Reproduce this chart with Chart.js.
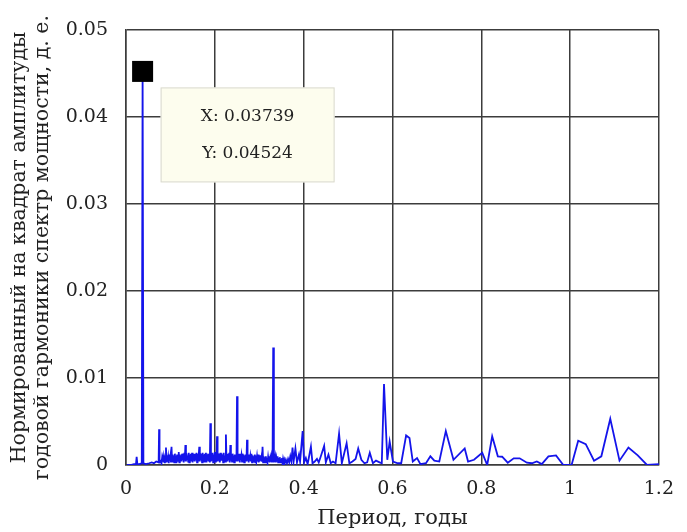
<!DOCTYPE html>
<html>
<head>
<meta charset="utf-8">
<script src="https://cdn.jsdelivr.net/npm/chart.js@4.4.1/dist/chart.umd.min.js"></script>
<style>
  html, body { margin: 0; padding: 0; background: #fff; }
  #wrap { width: 687px; height: 532px; }
</style>
</head>
<body>
<div id="wrap"><canvas id="spectrum"></canvas></div>
<script>
// Period, years (x) and normalized power (y)
const period = [
  0.002, 0.010, 0.018, 0.0225, 0.024, 0.0255, 0.030, 0.0355, 0.03739, 0.0392,
  0.045, 0.052, 0.058, 0.063, 0.068, 0.0735, 0.0745, 0.0755,
  // dense part
  0.0775, 0.07875, 0.0800, 0.08125, 0.0825, 0.08375, 0.0850, 0.08625, 0.0875, 0.08875,
  0.0900, 0.09125, 0.0925, 0.09375, 0.0950, 0.09625, 0.0975, 0.09875, 0.1000, 0.10125,
  0.1025, 0.10375, 0.1050, 0.10625, 0.1075, 0.10875, 0.1100, 0.11125, 0.1125, 0.11375,
  0.1150, 0.11625, 0.1175, 0.11875, 0.1200, 0.12125, 0.1225, 0.12375, 0.1250, 0.12625,
  0.1275, 0.12875, 0.1300, 0.13125, 0.1325, 0.13375, 0.1350, 0.13625, 0.1375, 0.13875,
  0.1400, 0.14125, 0.1425, 0.14375, 0.1450, 0.14625, 0.1475, 0.14875, 0.1500, 0.15125,
  0.1525, 0.15375, 0.1550, 0.15625, 0.1575, 0.15875, 0.1600, 0.16125, 0.1625, 0.16375,
  0.1650, 0.16625, 0.1675, 0.16875, 0.1700, 0.17125, 0.1725, 0.17375, 0.1750, 0.17625,
  0.1775, 0.17875, 0.1800, 0.18125, 0.1825, 0.18375, 0.1850, 0.18625, 0.1875, 0.18875,
  0.1900, 0.19125, 0.1925, 0.19375, 0.1950, 0.19625, 0.1975, 0.19875, 0.2000, 0.20125,
  0.2025, 0.20375, 0.2050, 0.20625, 0.2075, 0.20875, 0.2100, 0.21125, 0.2125, 0.21375,
  0.2150, 0.21625, 0.2175, 0.21875, 0.2200, 0.22125, 0.2225, 0.22375, 0.2250, 0.22625,
  0.2275, 0.22875, 0.2300, 0.23125, 0.2325, 0.23375, 0.2350, 0.23625, 0.2375, 0.23875,
  0.2400, 0.24125, 0.2425, 0.24375, 0.2450, 0.24625, 0.2475, 0.24875, 0.2500, 0.25125,
  0.2525, 0.25375, 0.2550, 0.25625, 0.2575, 0.25875, 0.2600, 0.26125, 0.2625, 0.26375,
  0.2650, 0.26625, 0.2675, 0.26875, 0.2700, 0.27125, 0.2725, 0.27375, 0.2750, 0.27625,
  0.2775, 0.27875, 0.2800, 0.28125, 0.2825, 0.28375, 0.2850, 0.28625, 0.2875, 0.28875,
  0.2900, 0.29125, 0.2925, 0.29375, 0.2950, 0.29625, 0.2975, 0.29875, 0.3000, 0.30125,
  0.3025, 0.30375, 0.3050, 0.30625, 0.3075, 0.30875, 0.3100, 0.31125, 0.3125, 0.31375,
  0.3150, 0.31625, 0.3175, 0.31875, 0.3200, 0.32125, 0.3225, 0.32375, 0.3250, 0.32625,
  0.3275, 0.32875, 0.3300, 0.3315, 0.3330,
  0.3340, 0.3350, 0.33625, 0.3375, 0.33875, 0.3400, 0.34125, 0.3425, 0.34375, 0.3450,
  0.34625, 0.3475, 0.34875, 0.3500, 0.35125, 0.3525, 0.35375, 0.3550, 0.35625, 0.3575,
  0.3600, 0.3625, 0.3650, 0.3675, 0.3700, 0.3725, 0.3750, 0.3775, 0.3815, 0.3850,
  // sparse part
  0.3895, 0.3920, 0.3978, 0.4010, 0.4050, 0.4090,
  0.4164, 0.4200, 0.4250, 0.4300, 0.4340, 0.4380, 0.4462, 0.4500, 0.4559, 0.4610,
  0.4660, 0.4720, 0.4798, 0.4860, 0.4968, 0.5030, 0.5100, 0.5170, 0.5229, 0.5300,
  0.5370, 0.5430, 0.5490, 0.5560, 0.5630, 0.5710, 0.5760, 0.5810, 0.5884, 0.5937,
  0.6011, 0.6123, 0.6197, 0.6308, 0.6384, 0.6458, 0.6554, 0.6630, 0.6755, 0.6854,
  0.6943, 0.7055, 0.7202, 0.7374, 0.7627, 0.7703, 0.7837, 0.8022, 0.8134, 0.8246,
  0.8373, 0.8470, 0.8597, 0.8731, 0.8865, 0.9028, 0.9140, 0.9251, 0.9363, 0.9513,
  0.9683, 0.9848, 1.0034, 1.0183, 1.0353, 1.0540, 1.0704, 1.0905, 1.1113, 1.1314,
  1.1524, 1.1732, 1.2000
];
const power = [
  0.0000, 0.0000, 0.0001, 0.0001, 0.00095, 0.0001, 0.0001, 0.0002, 0.04524, 0.0002,
  0.0001, 0.0002, 0.0003, 0.0002, 0.0004, 0.0003, 0.0041, 0.0003,
  // dense part
  0.0003, 0.0006, 0.0002, 0.0008, 0.0004, 0.0009, 0.0003, 0.0007, 0.0002, 0.0010,
  0.0020, 0.0003, 0.0011, 0.0004, 0.0009, 0.0002, 0.0012, 0.0005, 0.0010, 0.0003,
  0.0021, 0.0004, 0.0012, 0.0006, 0.0011, 0.0003, 0.0013, 0.0005, 0.0010, 0.0002,
  0.0012, 0.0004, 0.0009, 0.0015, 0.0003, 0.0012, 0.0005, 0.0011, 0.0004, 0.0013,
  0.0006, 0.0012, 0.0003, 0.0014, 0.0005, 0.0023, 0.0004, 0.0013, 0.0007, 0.0011,
  0.0004, 0.0014, 0.0003, 0.0012, 0.0006, 0.0013, 0.0004, 0.0014, 0.0003, 0.0012,
  0.0005, 0.0013, 0.0004, 0.0012, 0.0006, 0.0014, 0.0003, 0.0013, 0.0005, 0.0011,
  0.0021, 0.0004, 0.0013, 0.0006, 0.0012, 0.0003, 0.0014, 0.0005, 0.0012, 0.0004,
  0.0013, 0.0006, 0.0014, 0.0003, 0.0012, 0.0005, 0.0013, 0.0004, 0.0011, 0.0003,
  0.0048, 0.0004, 0.0013, 0.0006, 0.0014, 0.0003, 0.0012, 0.0005, 0.0015, 0.0004,
  0.0012, 0.0006, 0.0033, 0.0004, 0.0013, 0.0005, 0.0012, 0.0003, 0.0014, 0.0005,
  0.0013, 0.0006, 0.0012, 0.0003, 0.0014, 0.0005, 0.0011, 0.0004, 0.0035, 0.0005,
  0.0013, 0.0004, 0.0012, 0.0006, 0.0014, 0.0003, 0.0023, 0.0005, 0.0012, 0.0004,
  0.0013, 0.0006, 0.0011, 0.0003, 0.0012, 0.0005, 0.0010, 0.0004, 0.0079, 0.0004,
  0.0012, 0.0005, 0.0013, 0.0003, 0.0012, 0.0006, 0.0011, 0.0004, 0.0013, 0.0005,
  0.0012, 0.0003, 0.0011, 0.0005, 0.0012, 0.0004, 0.0029, 0.0005, 0.0011, 0.0003,
  0.0012, 0.0005, 0.0010, 0.0004, 0.0013, 0.0003, 0.0011, 0.0005, 0.0010, 0.0004,
  0.0012, 0.0003, 0.0011, 0.0005, 0.0010, 0.0004, 0.0012, 0.0003, 0.0010, 0.0004,
  0.0011, 0.0005, 0.0009, 0.0004, 0.0021, 0.0003, 0.0010, 0.0004, 0.0009, 0.0003,
  0.0010, 0.0004, 0.0008, 0.0003, 0.0009, 0.0004, 0.0010, 0.0003, 0.0008, 0.0004,
  0.0009, 0.0003, 0.0007, 0.0135, 0.0003,
  0.0008, 0.0004, 0.0009, 0.0003, 0.0008, 0.0004, 0.0010, 0.0003, 0.0008, 0.0004,
  0.0009, 0.0003, 0.0007, 0.0003, 0.0008, 0.0002, 0.0007, 0.0004, 0.0006, 0.0002,
  0.0006, 0.0002, 0.0007, 0.0003, 0.0010, 0.0004, 0.0020, 0.0004, 0.0019, 0.0003,
  // sparse part
  0.0012, 0.0004, 0.0039, 0.0003, 0.0008, 0.0001,
  0.0021, 0.0002, 0.0004, 0.0007, 0.0003, 0.0009, 0.0022, 0.0003, 0.0012, 0.0002,
  0.0004, 0.0002, 0.0036, 0.0002, 0.0025, 0.0002, 0.0004, 0.0007, 0.0019, 0.0006,
  0.0002, 0.0003, 0.0014, 0.0002, 0.0005, 0.0003, 0.0002, 0.0093, 0.0006, 0.0027,
  0.0004, 0.0002, 0.0002, 0.0034, 0.0031, 0.0004, 0.0008, 0.0001, 0.0002, 0.0010,
  0.0005, 0.0004, 0.0039, 0.0006, 0.0019, 0.0004, 0.0006, 0.0014, 0.0000, 0.0033,
  0.0010, 0.00095, 0.00026, 0.00077, 0.00077, 0.00026, 0.0002, 0.0004, 0.0001, 0.0010,
  0.0011, 0.0000, 0.0000, 0.0028, 0.0024, 0.0005, 0.0010, 0.0053, 0.0005, 0.0020,
  0.0011, 0.0000, 0.0001
];

// Data cursor shown on the main peak
const cursorX = 0.03739;
const cursorY = 0.04524;
const cursorLines = ['X: 0.03739', 'Y: 0.04524'];

const xTitle = 'Период, годы';
const yTitle = ['Нормированный на квадрат амплитуды', 'годовой гармоники спектр мощности, д. е.'];

const serif = 'DejaVu Serif';
const gridColor = '#3c3c3c';

// draws the black square and the datatip box
const dataTip = {
  id: 'dataTip',
  afterDatasetsDraw(chart) {
    const ctx = chart.ctx;
    const px = chart.scales.x.getPixelForValue(cursorX);
    const py = chart.scales.y.getPixelForValue(cursorY);
    ctx.save();
    ctx.fillStyle = '#000';
    ctx.fillRect(px - 10.5, py - 10.5, 21, 21);

    const bx = px + 18, by = py + 16, bw = 174, bh = 95;
    ctx.fillStyle = '#fdfdee';
    ctx.fillRect(bx, by, bw, bh);
    ctx.strokeStyle = '#d8d8d0';
    ctx.lineWidth = 1;
    ctx.strokeRect(bx + 0.5, by + 0.5, bw - 1, bh - 1);

    ctx.fillStyle = '#222';
    ctx.font = '17px "' + serif + '"';
    ctx.textAlign = 'center';
    ctx.textBaseline = 'middle';
    ctx.fillText(cursorLines[0], bx + bw / 2, by + 29);
    ctx.fillText(cursorLines[1], bx + bw / 2, by + 66);
    ctx.restore();
  }
};

const points = period.map((p, i) => ({ x: p, y: power[i] }));

new Chart(document.getElementById('spectrum'), {
  type: 'line',
  data: {
    datasets: [{
      data: points,
      borderColor: 'rgb(20,20,235)',
      borderWidth: 1.8,
      pointRadius: 0,
      tension: 0,
      fill: false,
    }],
  },
  options: {
    responsive: true,
    maintainAspectRatio: false,
    animation: false,
    events: [],
    layout: { padding: { top: 30, right: 24, left: 0, bottom: 0 } },
    plugins: {
      legend: { display: false },
      tooltip: { enabled: false },
    },
    scales: {
      x: {
        type: 'linear',
        min: 0,
        max: 1.2,
        ticks: {
          stepSize: 0.2,
          color: '#222',
          padding: 13,
          maxRotation: 0,
          font: { family: serif, size: 19 },
          callback: (v) => String(+v.toFixed(1)),
        },
        grid: { color: gridColor, lineWidth: 1.5, drawTicks: false },
        border: { color: gridColor, width: 1.5 },
        title: {
          display: true,
          text: xTitle,
          color: '#222',
          font: { family: serif, size: 21, lineHeight: 1.1 },
          padding: { top: 0, bottom: 2 },
        },
        afterFit: (s) => { s.height = 67; },
      },
      y: {
        min: 0,
        max: 0.05,
        ticks: {
          stepSize: 0.01,
          color: '#222',
          padding: 18,
          font: { family: serif, size: 19 },
          callback: (v) => String(+v.toFixed(2)),
        },
        grid: { color: gridColor, lineWidth: 1.5, drawTicks: false },
        border: { color: gridColor, width: 1.5 },
        title: {
          display: true,
          text: yTitle,
          color: '#222',
          font: { family: serif, size: 20.5, lineHeight: 1.12 },
          padding: { top: 8.5, bottom: 0 },
        },
        afterFit: (s) => { s.width = 126; },
      },
    },
  },
  plugins: [dataTip],
});
</script>
</body>
</html>
